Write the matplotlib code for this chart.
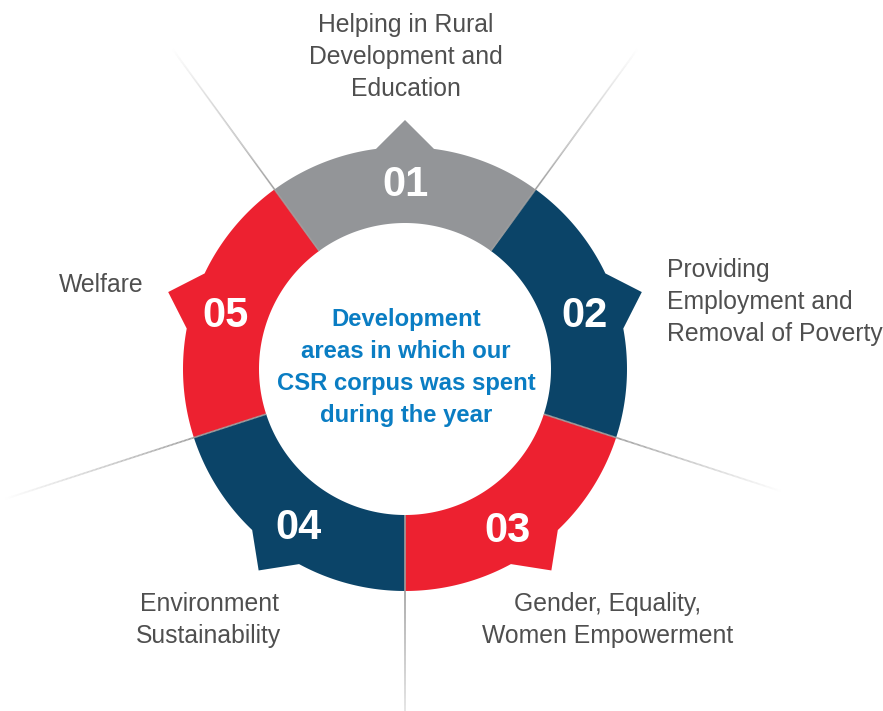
import numpy as np
import matplotlib
matplotlib.use("Agg")
import matplotlib.pyplot as plt
from matplotlib.patches import Polygon
from matplotlib.collections import LineCollection

# ---- data ----
numbers = ["01", "02", "03", "04", "05"]
labels = [
    ["Helping in Rural", "Development and", "Education"],
    ["Providing", "Employment and", "Removal of Poverty"],
    ["Gender, Equality,", "Women Empowerment"],
    ["Environment", "Sustainability"],
    ["Welfare"],
]
colors = ["#939598", "#0b4468", "#ed2130", "#0b4468", "#ed2130"]
center_lines = ["Development", "areas in which our", "CSR corpus was spent", "during the year"]

# ---- geometry (pixel space) ----
W, H = 883, 711
cx, cy = 405, 369
r_in, r_out = 146, 222
r_tip = 249
half_tip = np.deg2rad(7.5)
n = len(numbers)
step = 360.0 / n
centers_deg = [90 - i * step for i in range(n)]
num_angle_shift = [0, -0.4, -3.0, 1.6, 0.5]

def pt(r, a):
    return (cx + r * np.cos(a), cy - r * np.sin(a))

fig = plt.figure(figsize=(W / 100, H / 100), dpi=100)
ax = fig.add_axes([0, 0, 1, 1])
ax.set_xlim(0, W)
ax.set_ylim(H, 0)
ax.axis("off")

for i in range(n):
    c = np.deg2rad(centers_deg[i])
    a0 = c - np.deg2rad(step / 2)
    a1 = c + np.deg2rad(step / 2)
    pts = []
    for a in np.linspace(a0, c - half_tip, 40):
        pts.append(pt(r_out, a))
    pts.append(pt(r_tip, c))
    for a in np.linspace(c + half_tip, a1, 40):
        pts.append(pt(r_out, a))
    for a in np.linspace(a1, a0, 80):
        pts.append(pt(r_in, a))
    ax.add_patch(Polygon(pts, closed=True, facecolor=colors[i], edgecolor="none", zorder=2))

# rays on boundaries, fading
ray_len = [395, 395, 395, 420, 395]
bounds_deg = [c - step / 2 for c in centers_deg]
for i, bd in enumerate(bounds_deg):
    a = np.deg2rad(bd)
    rs = np.linspace(r_in, ray_len[i], 200)
    segs = []
    cols = []
    for k in range(len(rs) - 1):
        segs.append([pt(rs[k], a), pt(rs[k + 1], a)])
        r = rs[k]
        if r <= r_out:
            t = 0.0
        else:
            t = (r - r_out) / (ray_len[i] - r_out)
        g = 0.62 + (1.0 - 0.62) * t
        cols.append((g, g, g))
    ax.add_collection(LineCollection(segs, colors=cols, linewidths=1.2, zorder=3))

# numbers
num_font = dict(family="Liberation Sans", weight="bold", fontsize=30, color="white")
for i in range(n):
    c = np.deg2rad(centers_deg[i] + num_angle_shift[i])
    x, y = pt(188, c)
    ax.text(x, y + 15, numbers[i], ha="center", va="baseline", zorder=4, **num_font)

# center text
ctr_font = dict(family="Liberation Sans", weight="bold", fontsize=17.2, color="#0a7dc3")
for k, line in enumerate(center_lines):
    ax.text(406, 326 + 32 * k, line, ha="center", va="baseline", zorder=4, **ctr_font)

# labels
lab_font = dict(family="Liberation Sans", fontsize=17.8, color="#4f4f4f")
label_pos = [
    (406, 32, "center"),
    (667, 277, "left"),
    (608, 611, "center"),
    (209, 611, "center"),
    (101, 292, "center"),
]
for i, lines in enumerate(labels):
    x, y0, ha = label_pos[i]
    for k, line in enumerate(lines):
        ax.text(x, y0 + 32 * k, line, ha=ha, va="baseline", zorder=4, **lab_font)

fig.savefig("out.png", dpi=100, facecolor="white")
